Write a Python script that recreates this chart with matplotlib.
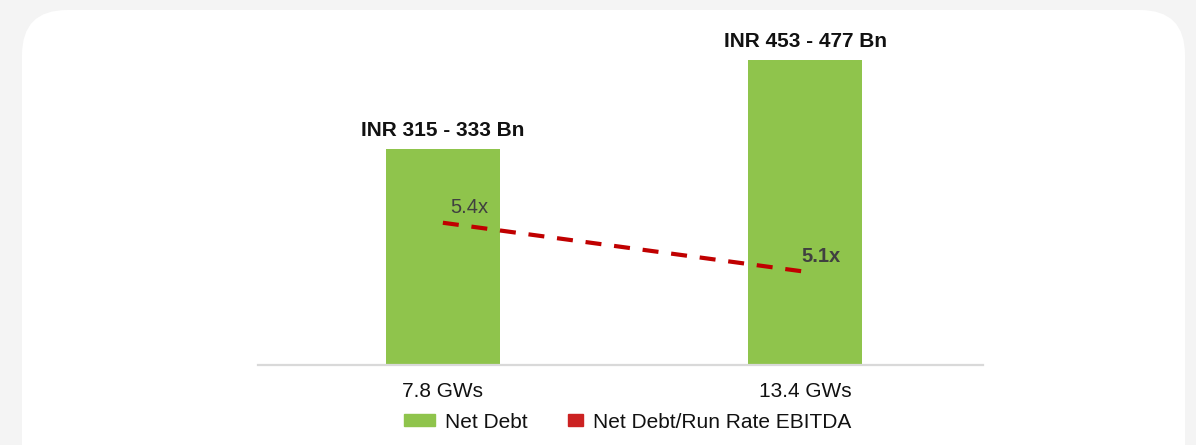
import matplotlib.pyplot as plt
import matplotlib.patches as mpatches
from matplotlib.legend_handler import HandlerPatch

plt.rcParams['font.family'] = ['Liberation Sans', 'DejaVu Sans']

# data
categories = ["7.8 GWs", "13.4 GWs"]
net_debt = [329, 465]                      # INR Bn (bar heights, mid of ranges)
debt_labels = ["INR 315 - 333 Bn", "INR 453 - 477 Bn"]
ratio = [5.4, 5.1]                         # Net Debt / Run Rate EBITDA
ratio_labels = ["5.4x", "5.1x"]

green = "#8fc44c"
red = "#c00000"

fig = plt.figure(figsize=(11.96, 4.45), dpi=100)
fig.patch.set_facecolor("#f4f4f4")

# white rounded card behind the chart
card = mpatches.FancyBboxPatch((0.22, -0.6), 11.63, 4.95,
                               boxstyle="round,pad=0,rounding_size=0.45",
                               transform=fig.dpi_scale_trans,
                               facecolor="white", edgecolor="none", zorder=-10)
fig.patches.append(card)

ax = fig.add_axes([258 / 1196, 80 / 445, 725 / 1196, 325 / 445])
ax.patch.set_alpha(0)
x = list(range(len(categories)))
bars = ax.bar(x, net_debt, width=0.314, color=green, zorder=2)
ax.set_xlim(-0.51, 1.49)
ax.set_ylim(0, 495.5)

for i, b in enumerate(bars):
    ax.annotate(debt_labels[i], (b.get_x() + b.get_width() / 2, b.get_height()),
                xytext=(0, 9), textcoords="offset pixels", ha="center", va="bottom",
                fontsize=15, fontweight="bold", color="#111111")

for s in ["top", "right", "left"]:
    ax.spines[s].set_visible(False)
ax.spines["bottom"].set_color("#d9d9d9")
ax.spines["bottom"].set_linewidth(1.6)
ax.set_yticks([])
ax.set_xticks(x)
ax.set_xticklabels(categories, fontsize=15, color="#111111")
ax.tick_params(axis="x", length=0, pad=12)

ax2 = ax.twinx()
ax2.set_ylim(4.529, 6.519)
ax2.set_yticks([])
for s in ax2.spines.values():
    s.set_visible(False)
line, = ax2.plot(x, ratio, color=red, lw=3, dashes=(3.84, 3.07), zorder=3,
                 solid_capstyle="butt", dash_capstyle="butt")

ax2.annotate(ratio_labels[0], (x[0], ratio[0]), xytext=(7, 10), textcoords="offset pixels",
             ha="left", va="baseline", fontsize=14.5, color="#404040")
ax2.annotate(ratio_labels[1], (x[1], ratio[1]), xytext=(-4, 10), textcoords="offset pixels",
             ha="left", va="baseline", fontsize=14.5, fontweight="bold", color="#404040")


def small_square(legend, orig_handle, xdescent, ydescent, width, height, fontsize):
    side = height * 1.3
    return mpatches.Rectangle((-xdescent + width - side, -ydescent), side, height)


red_handle = mpatches.Patch(color="#cc2222", label="Net Debt/Run Rate EBITDA")
green_handle = mpatches.Patch(color=green, label="Net Debt")
fig.legend(handles=[green_handle, red_handle], loc="center",
           bbox_to_anchor=(627.5 / 1196, 1 - 422 / 445), ncol=2, frameon=False,
           fontsize=15, handlelength=1.49, handleheight=0.48, handletextpad=0.48,
           columnspacing=1.2, borderpad=0, labelcolor="#111111",
           handler_map={red_handle: HandlerPatch(patch_func=small_square)})

fig.savefig("out.png", dpi=100, facecolor=fig.get_facecolor())
